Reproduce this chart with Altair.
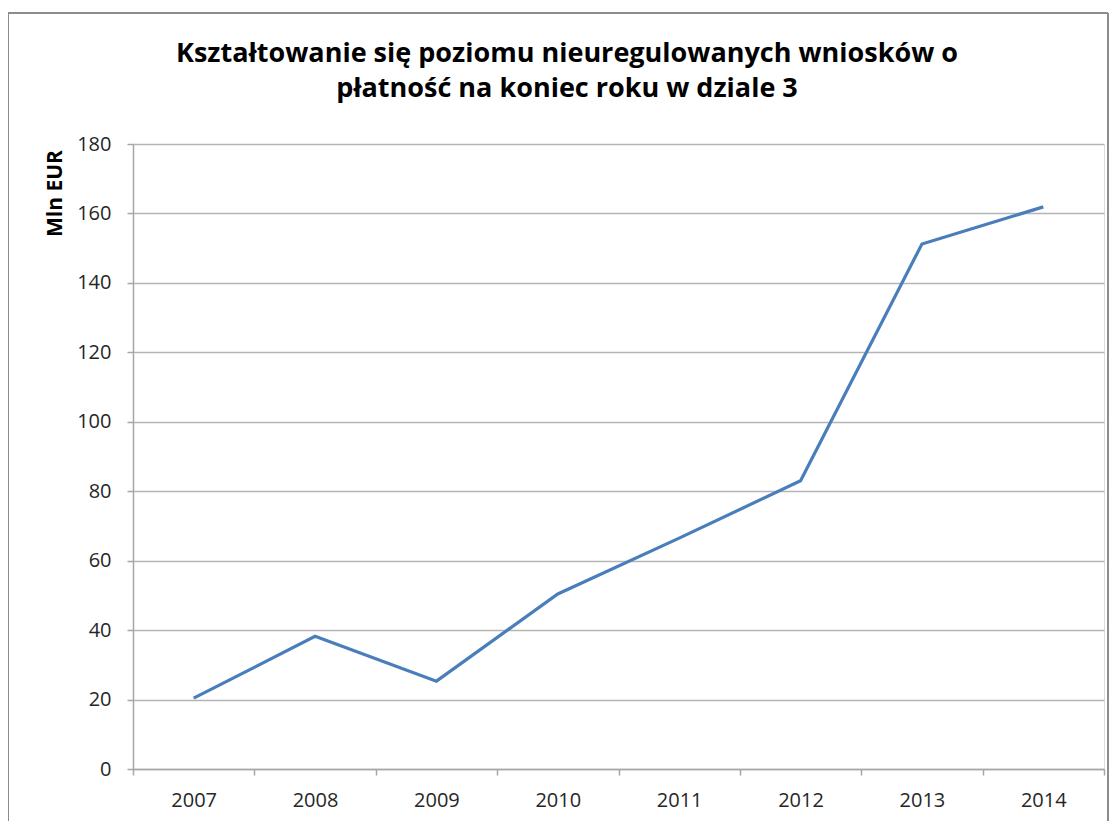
import altair as alt
import pandas as pd

years = ["2007", "2008", "2009", "2010", "2011", "2012", "2013", "2014"]
values = [20.4, 38.2, 25.3, 50.4, 66.5, 83.0, 151.2, 161.9]
title_lines = ["Kształtowanie się poziomu nieuregulowanych wniosków o",
               "płatność na koniec roku w dziale 3"]

df = pd.DataFrame({"year": years, "value": values})

PL, PT, PR, PB = 125, 136, 5, 52
W, H = 971, 625
LABEL_FONT = "Open Sans"
LABEL_COLOR = "#262626"

line = alt.Chart(df).mark_line(color="#4a7ebb", strokeWidth=3.2).encode(
    x=alt.X("year:O", sort=years,
            scale=alt.Scale(type="band", paddingInner=0, paddingOuter=0),
            axis=alt.Axis(title=None, grid=False, labelAngle=0, tickBand="extent",
                          labelFont=LABEL_FONT, labelFontSize=20, labelColor=LABEL_COLOR,
                          tickSize=6, tickColor="#a6a6a6", tickWidth=1.5,
                          domainColor="#a6a6a6", domainWidth=1.5, labelPadding=15)),
    y=alt.Y("value:Q", scale=alt.Scale(domain=[0, 180], nice=False),
            axis=alt.Axis(values=list(range(0, 181, 20)), title="Mln EUR",
                          titleFont=LABEL_FONT, titleFontSize=21, titleFontWeight="bold",
                          titleColor="#000000", titleAngle=-90, titleX=-78, titleY=49,
                          titleAlign="center", titleBaseline="middle",
                          labelFont=LABEL_FONT, labelFontSize=20, labelColor=LABEL_COLOR,
                          labelPadding=16, tickSize=6, tickColor="#a6a6a6", tickWidth=1.5,
                          domainColor="#a6a6a6", domainWidth=1.5,
                          gridColor="#b5b5b5", gridWidth=1.5)),
)

one = alt.Data(values=[{"k": 1}])

title1 = alt.Chart(one).mark_text(
    text=title_lines[0], font=LABEL_FONT, fontSize=27, fontWeight="bold",
    color="#000000", align="center", baseline="alphabetic",
).encode(x=alt.value(434), y=alt.value(-82))
title2 = alt.Chart(one).mark_text(
    text=title_lines[1], font=LABEL_FONT, fontSize=27, fontWeight="bold",
    color="#000000", align="center", baseline="alphabetic",
).encode(x=alt.value(434), y=alt.value(-47))

bcol = "#8c8c8c"
top = alt.Chart(one).mark_rule(color=bcol, strokeWidth=2).encode(
    x=alt.value(-PL), x2=alt.value(W + PR - 1), y=alt.value(-PT + 5))
left = alt.Chart(one).mark_rule(color=bcol, strokeWidth=2).encode(
    x=alt.value(-PL), y=alt.value(-PT + 5), y2=alt.value(H + PB))
right = alt.Chart(one).mark_rule(color=bcol, strokeWidth=2).encode(
    x=alt.value(W + PR - 1), y=alt.value(-PT + 5), y2=alt.value(H + PB))

chart = alt.layer(line, title1, title2, top, left, right).properties(
    width=W, height=H,
    autosize=alt.AutoSizeParams(type="none"),
    padding={"left": PL, "top": PT, "right": PR, "bottom": PB},
).configure_view(stroke=None).configure(background="#ffffff")

chart.save("out.html", embed_options={"renderer": "svg", "actions": False})
